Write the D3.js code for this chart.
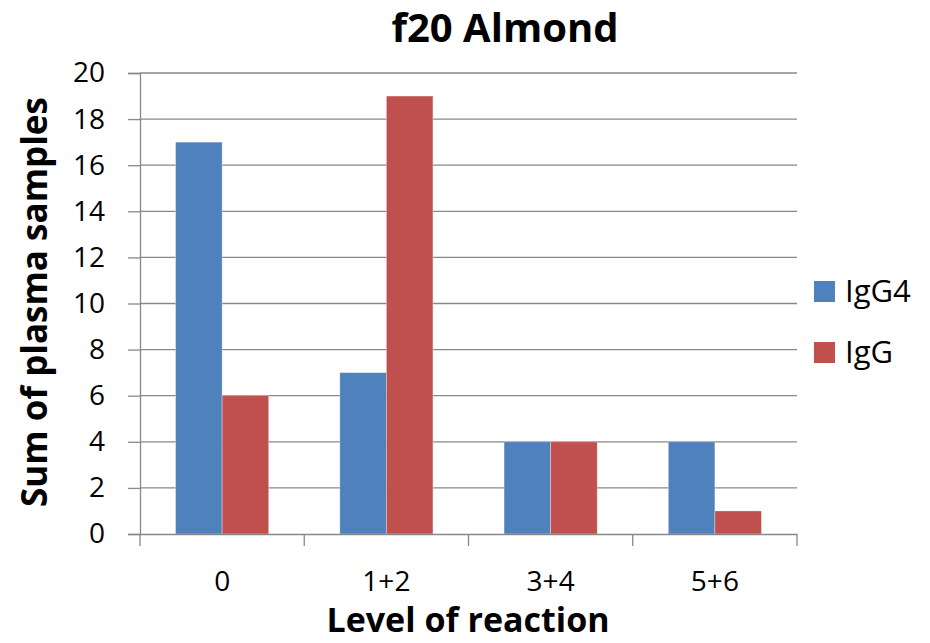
<!DOCTYPE html>
<html><head><meta charset="utf-8">
<script src="https://cdn.jsdelivr.net/npm/d3@7"></script>
<style>body{margin:0;background:#fff;} svg{display:block;font-family:"Open Sans",sans-serif;}</style>
</head><body>
<svg id="c" width="930" height="643"></svg>
<script>
const categories = ["0", "1+2", "3+4", "5+6"];
const seriesNames = ["IgG4", "IgG"];
const igg4 = [17, 7, 4, 4];
const igg = [6, 19, 4, 1];
const yTicks = [0, 2, 4, 6, 8, 10, 12, 14, 16, 18, 20];
const colors = ["#4F81BD", "#C0504D"];

const svg = d3.select("#c");
const L = 140, R = 797, T = 73, B = 534;
const x = d3.scaleBand().domain(categories).range([L, R]).paddingInner(0.433).paddingOuter(0.2165);
const xs = d3.scaleBand().domain(seriesNames).range([0, x.bandwidth()]);
const y = d3.scaleLinear().domain([0, 20]).range([B, T]);

// gridlines
svg.append("g").selectAll("line").data(yTicks.filter(d => d > 0)).join("line")
  .attr("x1", L).attr("x2", R).attr("y1", d => y(d)).attr("y2", d => y(d))
  .attr("stroke", "#888").attr("stroke-width", 1.3);

// bars
const data = categories.map((c, i) => ({c, vals: [igg4[i], igg[i]]}));
const g = svg.append("g").selectAll("g").data(data).join("g")
  .attr("transform", d => `translate(${x(d.c)},0)`);
g.selectAll("rect").data(d => d.vals.map((v, j) => ({v, s: seriesNames[j], j}))).join("rect")
  .attr("x", d => xs(d.s)).attr("width", xs.bandwidth())
  .attr("y", d => y(d.v)).attr("height", d => B - y(d.v))
  .attr("fill", d => colors[d.j]).attr("stroke", "#fff").attr("stroke-opacity", 0.4).attr("stroke-width", 0.8);

// y axis
const ya = svg.append("g").attr("transform", `translate(${L},0)`)
  .call(d3.axisLeft(y).tickValues(yTicks).tickSize(12).tickPadding(23).tickFormat(d3.format("d")));
ya.select(".domain").attr("stroke", "#888").attr("stroke-width", 1.3);
ya.selectAll(".tick line").attr("stroke", "#888").attr("stroke-width", 1.3);
ya.selectAll("text").attr("font-size", 28).attr("fill", "#000").attr("font-family", "Open Sans");

// x axis
const xa = svg.append("g").attr("transform", `translate(0,${B})`)
  .call(d3.axisBottom(x).tickSize(0).tickPadding(37));
xa.select(".domain").attr("stroke", "#888").attr("stroke-width", 1.3);
xa.selectAll("text").attr("font-size", 28).attr("fill", "#000").attr("font-family", "Open Sans");
const step = x.step();
svg.append("g").selectAll("line").data(d3.range(categories.length + 1)).join("line")
  .attr("x1", i => L + i * step).attr("x2", i => L + i * step)
  .attr("y1", B).attr("y2", B + 12).attr("stroke", "#888").attr("stroke-width", 1.3);

// titles
svg.append("text").attr("x", 505).attr("y", 42).attr("text-anchor", "middle")
  .attr("font-size", 40).attr("font-weight", "bold").text("f20 Almond");
svg.append("text").attr("x", 468).attr("y", 632).attr("text-anchor", "middle")
  .attr("font-size", 34).attr("font-weight", "bold").text("Level of reaction");
svg.append("text").attr("transform", "translate(47,302) rotate(-90)").attr("text-anchor", "middle")
  .attr("font-size", 35).attr("font-weight", "bold").text("Sum of plasma samples");

// legend
const lg = svg.append("g").selectAll("g").data(seriesNames).join("g")
  .attr("transform", (d, i) => `translate(814,${281 + i * 61})`);
lg.append("rect").attr("width", 21).attr("height", 21).attr("fill", (d, i) => colors[i]);
lg.append("text").attr("x", 31).attr("y", 21).attr("font-size", 31).text(d => d);
</script>
</body></html>
